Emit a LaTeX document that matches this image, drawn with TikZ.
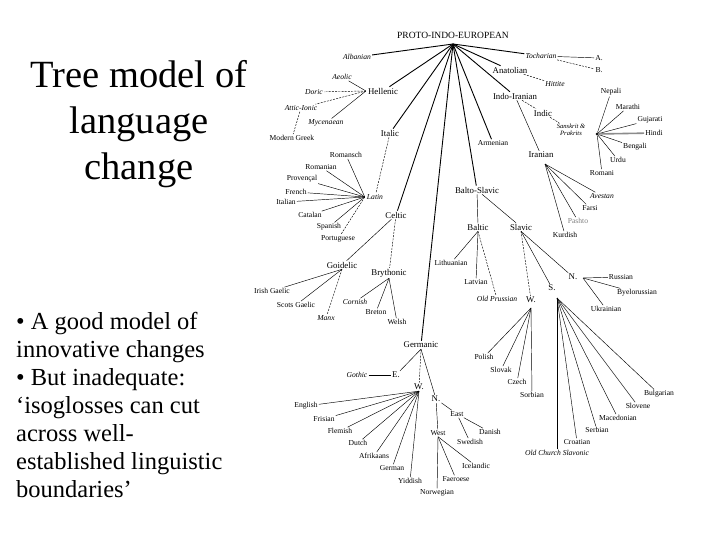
\documentclass[tikz,border=0pt]{standalone}
\usepackage{fontspec}
\setmainfont{Liberation Serif}
\usetikzlibrary{positioning}
\tikzset{
  big/.style={font=\fontsize{9.5}{10}\selectfont,inner sep=1pt},
  group/.style={font=\fontsize{8.8}{10}\selectfont,inner sep=1pt},
  lang/.style={font=\fontsize{7.6}{8}\selectfont,inner sep=1pt},
  old/.style={font=\fontsize{7.6}{8}\selectfont\itshape,inner sep=1pt},
  trunk/.style={line width=0.9pt},
  twig/.style={line width=0.45pt},
  twigdash/.style={twig,dash pattern=on 2pt off 1.2pt},
  hub/.style={circle,fill,inner sep=0.9pt}
}
\begin{document}
\begin{tikzpicture}[x=1pt,y=-1pt]
  \fill[white] (0,0) rectangle (720,540);
  \useasboundingbox (0,0) rectangle (720,540);
  % slide text
  \node[font=\fontsize{38.5}{46}\selectfont,align=center,inner sep=0pt,anchor=north]
    (title) at (139,60) {Tree model of\\language\\change};
  \node[font=\fontsize{24.5}{28}\selectfont,align=left,inner sep=0pt,anchor=north west]
    (notes) at (16,312) {• A good model of\\innovative changes\\• But inadequate:\\
    ‘isoglosses can cut\\across well-\\established linguistic\\boundaries’};
  % root and first branches
  \node[big] (pie) at (453,35) {PROTO-INDO-EUROPEAN};
  \coordinate (pieH) at (453,44);
  \node[old] (albanian) at (357,57) {Albanian};
  \node[group] (hellenic) at (383,91) {Hellenic};
  \node[group] (italic) at (390,133) {Italic};
  \node[group] (celtic) at (396,215) {Celtic};
  \node[group] (germanic) at (421,345) {Germanic};
  \node[group] (baltoslavic) at (477,190) {Balto-Slavic};
  \node[lang] (armenian) at (493,143) {Armenian};
  \node[group] (indoiranian) at (515,96) {Indo-Iranian};
  \node[group] (anatolian) at (510,70) {Anatolian};
  \node[old] (tocharian) at (541,56) {Tocharian};
  \foreach \c in {albanian,hellenic,italic,celtic,germanic,baltoslavic,armenian,indoiranian,anatolian,tocharian}
    \draw[trunk] (pieH) -- (\c);
  % Hellenic
  \coordinate (helH) at ([xshift=-1pt]hellenic.west);
  \node[old] (aeolic) at (342,77) {Aeolic};
  \node[old] (doric) at (314,92) {Doric};
  \node[old] (attic) at (301,108) {Attic-Ionic};
  \node[old] (mycenaean) at (326,123) {Mycenaean};
  \node[lang] (modgreek) at (292,138) {Modern Greek};
  \draw[twig] (helH) -- (aeolic);
  \draw[twigdash] (helH) -- (doric);
  \draw[twigdash] (helH) -- (attic);
  \draw[twig] (helH) -- (mycenaean);
  \draw[twigdash] (attic) -- (modgreek);
  % Italic
  \node[old] (latin) at (375,197) {Latin};
  \coordinate (latH) at ([xshift=-1pt]latin.west);
  \draw[twigdash] (italic) -- (latin);
  \node[lang] (romansch) at (346,155) {Romansch};
  \node[lang] (romanian) at (321,167) {Romanian};
  \node[lang] (provencal) at (302,179) {Provençal};
  \node[lang] (french) at (296,192) {French};
  \node[lang] (italian) at (286,202) {Italian};
  \node[lang] (catalan) at (310,215) {Catalan};
  \node[lang] (spanish) at (329,227) {Spanish};
  \node[lang] (portuguese) at (338,239) {Portuguese};
  \foreach \c in {romansch,romanian,provencal,french,italian,catalan,spanish}
    \draw[twig] (latH) -- (\c);
  \draw[twigdash] (latH) -- (portuguese);
  % Celtic
  \node[group] (goidelic) at (342,265) {Goidelic};
  \node[group] (brythonic) at (389,273) {Brythonic};
  \draw[twig] (celtic) -- (goidelic);
  \draw[twigdash] (celtic) -- (brythonic);
  \node[lang] (irish) at (272,291) {Irish Gaelic};
  \node[lang] (scots) at (296,305) {Scots Gaelic};
  \node[old] (manx) at (326,318) {Manx};
  \draw[twig] (goidelic.south) -- (irish);
  \draw[twig] (goidelic.south) -- (scots);
  \draw[twigdash] (goidelic.south) -- (manx);
  \node[old] (cornish) at (355,302) {Cornish};
  \node[lang] (breton) at (376,312) {Breton};
  \node[lang] (welsh) at (397,322) {Welsh};
  \foreach \c in {cornish,breton,welsh}
    \draw[twig] (brythonic.south) -- (\c);
  % Germanic
  \node[group] (gerE) at (396,375) {E.};
  \node[group] (gerW) at (419,387) {W.};
  \node[group] (gerN) at (436,399) {N.};
  \node[old] (gothic) at (357,375) {Gothic};
  \draw[twig] (germanic.south) -- (gerE);
  \draw[twigdash] (germanic.south) -- (gerW);
  \draw[twig] (germanic.south) -- (gerN);
  \draw[line width=0.6pt] (gothic) -- (gerE);
  \node[lang] (english) at (306,406) {English};
  \node[lang] (frisian) at (324,419) {Frisian};
  \node[lang] (flemish) at (340,431) {Flemish};
  \node[lang] (dutch) at (358,443) {Dutch};
  \node[lang] (afrikaans) at (374,456) {Afrikaans};
  \node[lang] (german) at (392,468) {German};
  \node[lang] (yiddish) at (410,481) {Yiddish};
  \foreach \c in {english,frisian,flemish,dutch,afrikaans,german,yiddish}
    \draw[twig] (gerW.south) -- (\c);
  \node[lang] (eastN) at (457,414) {East};
  \node[lang] (westN) at (438,433) {West};
  \draw[twig] (gerN) -- (eastN);
  \draw[twig] (gerN) -- (westN);
  \node[lang] (danish) at (490,432) {Danish};
  \node[lang] (swedish) at (470,442) {Swedish};
  \draw[twig] (eastN) -- (danish);
  \draw[twig] (eastN) -- (swedish);
  \node[lang] (icelandic) at (476,466) {Icelandic};
  \node[lang] (faeroese) at (456,479) {Faeroese};
  \node[lang] (norwegian) at (437,493) {Norwegian};
  \foreach \c in {icelandic,faeroese,norwegian}
    \draw[twig] (westN.south) -- (\c);
  % Balto-Slavic
  \node[group] (baltic) at (478,227) {Baltic};
  \node[group] (slavic) at (521,227) {Slavic};
  \draw[twig] (baltoslavic) -- (baltic);
  \draw[twig] (baltoslavic) -- (slavic);
  \node[lang] (lithuanian) at (451,263) {Lithuanian};
  \node[lang] (latvian) at (476,282) {Latvian};
  \node[old] (oldprussian) at (497,299) {Old Prussian};
  \draw[twig] (baltic.south) -- (lithuanian);
  \draw[twig] (baltic.south) -- (latvian);
  \draw[twigdash] (baltic.south) -- (oldprussian);
  \node[group] (slN) at (573,277) {N.};
  \node[group] (slS) at (552,288) {S.};
  \node[group] (slW) at (531,300) {W.};
  \draw[twig] (slavic.south) -- (slN);
  \draw[twig] (slavic.south) -- (slS);
  \draw[twigdash] (slavic.south) -- (slW);
  \coordinate (nH) at (583,278);
  \node[lang] (russian) at (621,277) {Russian};
  \node[lang] (byelorussian) at (637,293) {Byelorussian};
  \node[lang] (ukrainian) at (606,309) {Ukrainian};
  \foreach \c in {russian,byelorussian,ukrainian}
    \draw[twig] (nH) -- (\c);
  \coordinate (wH) at (531,308);
  \node[lang] (polish) at (484,357) {Polish};
  \node[lang] (slovak) at (501,370) {Slovak};
  \node[lang] (czech) at (517,382) {Czech};
  \node[lang] (sorbian) at (532,395) {Sorbian};
  \foreach \c in {polish,slovak,czech,sorbian}
    \draw[twig] (wH) -- (\c);
  \coordinate (sH) at (557,298);
  \node[lang] (bulgarian) at (659,394) {Bulgarian};
  \node[lang] (slovene) at (638,406) {Slovene};
  \node[lang] (macedonian) at (618,418) {Macedonian};
  \node[lang] (serbian) at (597,430) {Serbian};
  \node[lang] (croatian) at (577,442) {Croatian};
  \node[old] (ocs) at (557,453) {Old Church Slavonic};
  \foreach \c in {bulgarian,slovene,macedonian,serbian,croatian,ocs}
    \draw[twig] (sH) -- (\c);
  % Indo-Iranian, Anatolian, Tocharian
  \node[group] (indic) at (543,113) {Indic};
  \node[group] (iranian) at (541,155) {Iranian};
  \draw[twigdash] (indoiranian) -- (indic);
  \draw[twig] (indoiranian) -- (iranian);
  \node[old,font=\fontsize{6.6}{7.4}\selectfont\itshape,align=center] (sanskrit) at (571,130) {Sanskrit \&\\Prakrits};
  \node[hub] (skH) at (597,134) {};
  \draw[twigdash] (indic) -- (sanskrit);
  \node[lang] (nepali) at (611,92) {Nepali};
  \node[lang] (marathi) at (628,107) {Marathi};
  \node[lang] (gujarati) at (650,120) {Gujarati};
  \node[lang] (hindi) at (654,133) {Hindi};
  \node[lang] (bengali) at (635,147) {Bengali};
  \node[lang] (urdu) at (618,160) {Urdu};
  \node[lang] (romani) at (602,173) {Romani};
  \foreach \c in {nepali,marathi,gujarati,bengali,urdu,romani}
    \draw[twig] (skH) -- (\c);
  \draw[line width=1.6pt,black!45] (skH) -- (hindi);
  \coordinate (irH) at (545,164);
  \node[old] (avestan) at (602,196) {Avestan};
  \node[lang] (farsi) at (590,208) {Farsi};
  \node[lang,text=black!50] (pashto) at (578,221) {Pashto};
  \node[lang] (kurdish) at (565,235) {Kurdish};
  \foreach \c in {avestan,farsi,pashto,kurdish}
    \draw[twig] (irH) -- (\c);
  \node[old] (hittite) at (555,84) {Hittite};
  \draw[twigdash] (anatolian) -- (hittite);
  \node[lang] (tochA) at (599,58) {A.};
  \node[lang] (tochB) at (599,70) {B.};
  \draw[twig] (tocharian) -- (tochA);
  \draw[twigdash] (tocharian) -- (tochB);
\end{tikzpicture}
\end{document}
